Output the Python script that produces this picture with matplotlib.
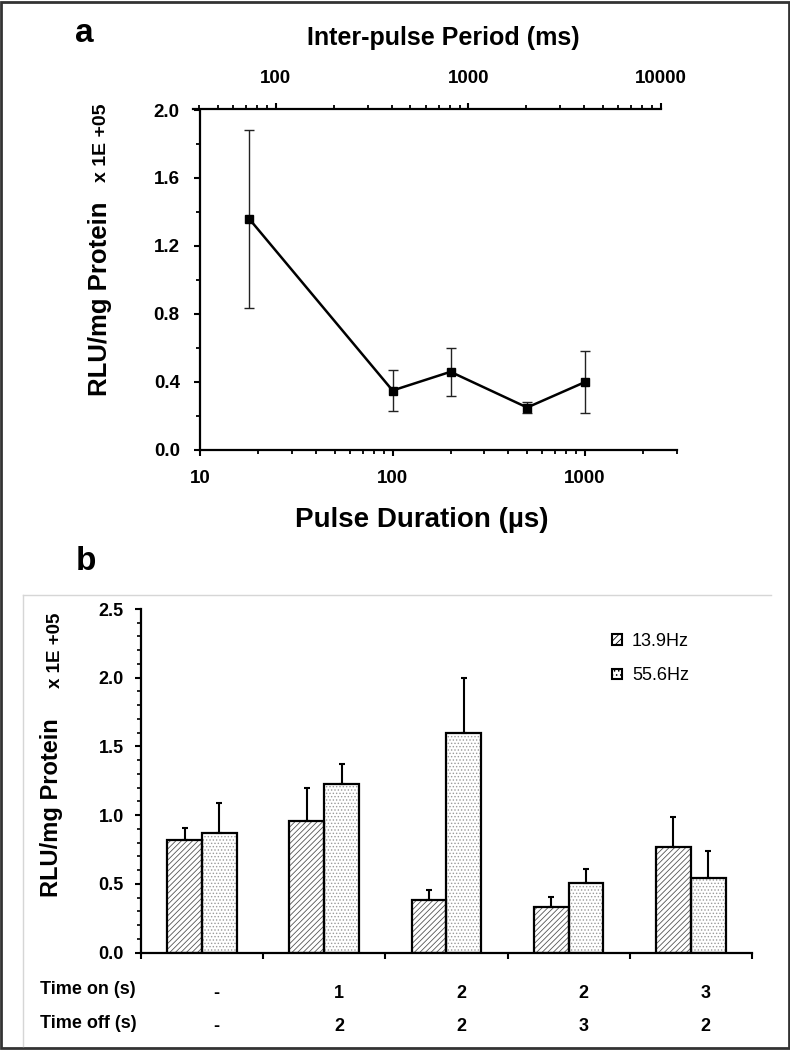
import matplotlib
matplotlib.use("Agg")
from matplotlib import pyplot as plt
from matplotlib.patches import Patch, Rectangle
from matplotlib.lines import Line2D
from matplotlib.ticker import FixedLocator, NullFormatter, LogLocator
import numpy as np

# panel a data: pulse duration sweep
pulse_us = [18, 100, 200, 500, 1000]
rlu_a = [1.36, 0.35, 0.46, 0.25, 0.40]
err_a = [0.525, 0.12, 0.14, 0.034, 0.18]

# panel b data: on/off cycling at two frequencies
hz_labels = ["13.9Hz", "55.6Hz"]
rlu_139 = [0.82, 0.96, 0.385, 0.335, 0.77]
err_139 = [0.087, 0.24, 0.073, 0.072, 0.218]
rlu_556 = [0.87, 1.23, 1.60, 0.51, 0.54]
err_556 = [0.219, 0.145, 0.40, 0.102, 0.198]
time_on = ["-", "1", "2", "2", "3"]
time_off = ["-", "2", "2", "3", "2"]

plt.rcParams['hatch.linewidth'] = 0.6
arial = ['Liberation Sans', 'DejaVu Sans']
TICK_FS = 13.5

W, H = 790, 1050
fig = plt.figure(figsize=(7.9, 10.5), dpi=100)

def fx(px):
    return px / W

def fy(py):
    return 1 - py / H

def style_labels(labels, size=TICK_FS):
    for lab in labels:
        lab.set_family(arial)
        lab.set_fontweight('bold')
        lab.set_fontsize(size)

# ---------- panel a ----------
ax = fig.add_axes([fx(200), fy(450), fx(477), 340 / H])
ax.errorbar(pulse_us, rlu_a, yerr=err_a, color='black', lw=1.8, marker='s', ms=6,
            ecolor='#222222', elinewidth=1, capsize=3.5, capthick=1)
ax.set_xscale('log')
ax.set_xlim(10, 3000)
ax.set_ylim(0, 2.0)
ax.set_xticks([10, 100, 1000])
ax.set_xticklabels(['10', '100', '1000'])
ax.xaxis.set_minor_locator(LogLocator(base=10, subs=np.arange(2, 10)))
ax.xaxis.set_minor_formatter(NullFormatter())
ax.set_yticks(np.arange(0, 2.01, 0.4))
ax.set_yticklabels(['%.1f' % v for v in np.arange(0, 2.01, 0.4)])
ax.yaxis.set_minor_locator(FixedLocator(np.arange(0.2, 2.0, 0.4)))
for s in ['top', 'right']:
    ax.spines[s].set_visible(False)
for s in ['left', 'bottom']:
    ax.spines[s].set_linewidth(1.6)
ax.tick_params(which='major', direction='out', length=4.5, width=1.5, pad=10)
ax.tick_params(which='minor', direction='out', length=3, width=1.3)
style_labels(ax.get_xticklabels() + ax.get_yticklabels())

# top axis: inter-pulse period
ax2 = fig.add_axes([fx(193), fy(109), fx(661 - 193), 0.0001])
ax2.set_xscale('log')
ax2.set_xlim(37.2, 10000)
ax2.set_xticks([100, 1000, 10000])
ax2.set_xticklabels(['100', '1000', '10000'])
ax2.xaxis.set_minor_locator(LogLocator(base=10, subs=np.arange(2, 10)))
ax2.xaxis.set_minor_formatter(NullFormatter())
ax2.xaxis.set_ticks_position('top')
ax2.yaxis.set_visible(False)
for s in ['bottom', 'left', 'right']:
    ax2.spines[s].set_visible(False)
ax2.spines['top'].set_linewidth(1.6)
ax2.patch.set_visible(False)
ax2.tick_params(which='major', direction='out', length=4.5, width=1.5, pad=11)
ax2.tick_params(which='minor', direction='out', length=3, width=1.3)
style_labels(ax2.get_xticklabels())

fig.text(fx(84), fy(33), 'a', fontsize=24, fontweight='bold', family=arial,
         ha='center', va='center')
fig.text(fx(443), fy(38), 'Inter-pulse Period (ms)', fontsize=18, fontweight='bold',
         family=arial, ha='center', va='center')
fig.text(fx(422), fy(520), 'Pulse Duration (\u00b5s)', fontsize=20, fontweight='bold',
         family=arial, ha='center', va='center')
fig.text(fx(100), fy(299), 'RLU/mg Protein', fontsize=18.5, fontweight='bold',
         family=arial, rotation=90, ha='center', va='center')
fig.text(fx(102), fy(143), 'x 1E +05', fontsize=14, fontweight='bold',
         family=arial, rotation=90, ha='center', va='center')

# ---------- panel b ----------
axb = fig.add_axes([fx(141), fy(952.7), fx(611), 343.7 / H])
x = np.arange(len(rlu_139)) + 0.5
bw = 0.285
x1 = x - 0.143
x2 = x + 0.142
axb.bar(x1, rlu_139, bw, color='white', edgecolor='#555555', hatch='//////', lw=0, zorder=2)
axb.bar(x1, rlu_139, bw, fill=False, edgecolor='black', lw=1.6, zorder=3)
axb.bar(x2, rlu_556, bw, color='white', edgecolor='#9a9a9a', hatch='.....', lw=0, zorder=2)
axb.bar(x2, rlu_556, bw, fill=False, edgecolor='black', lw=1.6, zorder=3)
axb.errorbar(x1, rlu_139, yerr=[np.zeros(5), err_139], fmt='none', ecolor='black',
             elinewidth=1.5, capsize=2.5, capthick=1.5, zorder=4)
axb.errorbar(x2, rlu_556, yerr=[np.zeros(5), err_556], fmt='none', ecolor='black',
             elinewidth=1.5, capsize=2.5, capthick=1.5, zorder=4)
axb.set_xlim(0, 5)
axb.set_ylim(0, 2.5)
axb.set_xticks(np.arange(0, 6))
axb.set_xticklabels([])
axb.set_yticks(np.arange(0, 2.51, 0.5))
axb.set_yticklabels(['%.1f' % v for v in np.arange(0, 2.51, 0.5)])
axb.yaxis.set_minor_locator(FixedLocator(np.arange(0.1, 2.5, 0.1)))
for s in ['top', 'right']:
    axb.spines[s].set_visible(False)
for s in ['left', 'bottom']:
    axb.spines[s].set_linewidth(1.6)
axb.tick_params(which='major', direction='out', length=4.5, width=1.5, pad=8)
axb.tick_params(which='minor', direction='out', length=3, width=1.2)
style_labels(axb.get_yticklabels(), 13)

for i in range(len(x)):
    axb.text(x[i] + 0.12, -0.30, time_on[i], transform=axb.transData, fontsize=13,
             fontweight='bold', family=arial, ha='center', va='center', clip_on=False)
    axb.text(x[i] + 0.12, -0.54, time_off[i], transform=axb.transData, fontsize=13,
             fontweight='bold', family=arial, ha='center', va='center', clip_on=False)
fig.text(fx(40), fy(990), 'Time on (s)', fontsize=13, fontweight='bold', family=arial,
         ha='left', va='center')
fig.text(fx(40), fy(1023), 'Time off (s)', fontsize=13, fontweight='bold', family=arial,
         ha='left', va='center')

handles = [Patch(facecolor='white', edgecolor='black', hatch='/////', lw=1.5),
           Patch(facecolor='white', edgecolor='black', hatch='....', lw=1.5)]
fig.legend(handles, hz_labels, loc='upper left', bbox_to_anchor=(fx(596), fy(617)),
           frameon=False, prop={'family': arial, 'size': 13}, handlelength=0.55,
           handleheight=0.55, labelspacing=0.95, handletextpad=0.55)

fig.text(fx(86), fy(561), 'b', fontsize=24, fontweight='bold', family=arial,
         ha='center', va='center')
fig.text(fx(52), fy(808), 'RLU/mg Protein', fontsize=17, fontweight='bold',
         family=arial, rotation=90, ha='center', va='center')
fig.text(fx(55), fy(650), 'x 1E +05', fontsize=13.5, fontweight='bold',
         family=arial, rotation=90, ha='center', va='center')

# light frame of panel b and dark outer frame
fig.add_artist(Line2D([fx(23), fx(23)], [fy(595), fy(1046)], color='#d6d6d6', lw=1))
fig.add_artist(Line2D([fx(23), fx(771)], [fy(595), fy(595)], color='#d6d6d6', lw=1))
fig.add_artist(Rectangle((0.0015, 0.0015), 0.997, 0.997, transform=fig.transFigure,
                         fill=False, edgecolor='#333333', lw=2))

fig.savefig('out.png', dpi=100)
